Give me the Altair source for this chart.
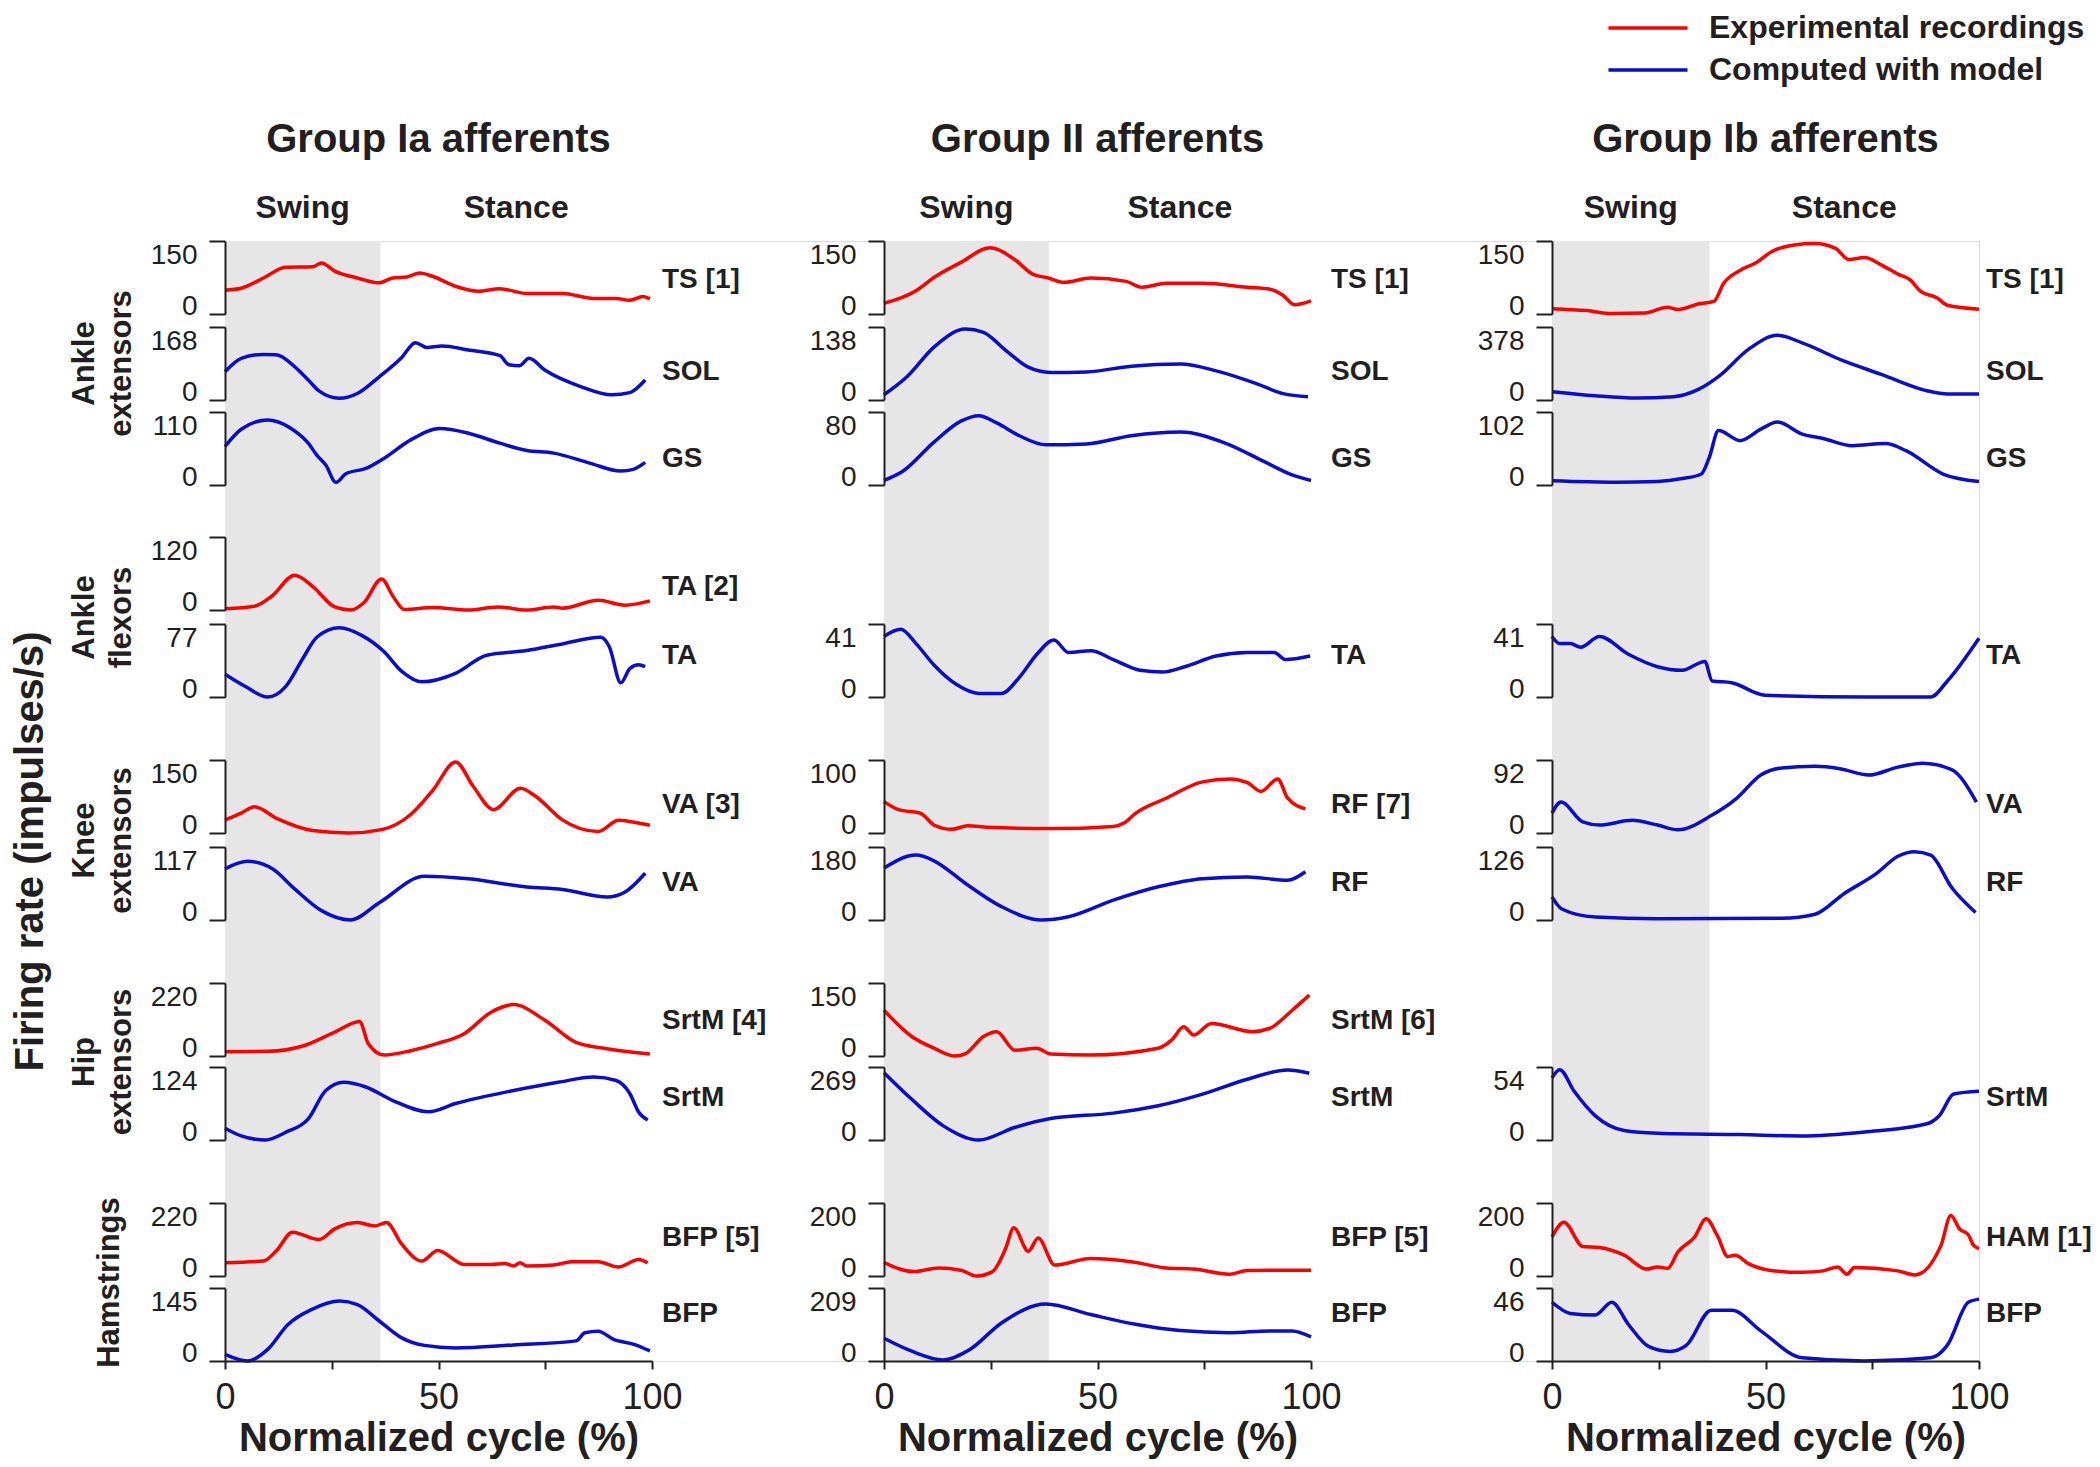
import altair as alt
import pandas as pd

# ---------------- data ----------------
EXP = "Experimental recordings"
MOD = "Computed with model"

COL_TITLES = ["Group Ia afferents", "Group II afferents", "Group Ib afferents"]
SWING_END = [36.4, 38.6, 36.9]
X_TICKS = [0, 25, 50, 75, 100]

# Group Ia
C1_TS = [(0,49),(3.8,53),(9,74),(14.2,96),(20.5,97),(22.6,105),(25.7,88),(31,74),(36,64),(39.3,74),(42.5,76),(45.6,84),(48.7,77),(54,57),(59.2,47),(64.4,52),(70.7,42),(79,42),(86.4,32),(91.6,32),(94.8,28),(97.9,36),(99.5,31)]
C1_SOL = [(0,65),(3.8,96),(9,105),(12,104),(16.3,77),(19.5,46),(22,21),(26.8,4),(31,15),(36.2,54),(41.4,98),(44.6,132),(47.2,121),(50.8,124),(57,115),(64.4,102),(66.5,81),(69,79),(71.2,96),(74.9,69),(83.3,31),(90.6,12),(94.8,17),(98.4,46)]
C1_GS = [(0,58),(3.8,84),(10,98),(15.3,86),(19.5,63),(21.5,45),(23.6,30),(26,4),(28.3,17),(33,25),(37.2,40),(43.5,68),(50.3,85),(57,78),(64.4,63),(70.7,52),(77,48),(85.4,33),(92.7,21),(95.8,24),(98.4,34)]
C1_TA_E = [(0,2),(6.9,6),(11,23),(16.3,57),(20.5,39),(25.7,5),(29.4,0),(32.5,12),(36.7,51),(39.3,23),(42,1),(48.7,4),(57,0),(63.9,5),(70.7,0),(77,5),(79,3),(87.4,16),(93.7,8),(99.5,15)]
C1_TA_M = [(0,24),(4.8,11),(10,0),(14.2,11),(18.4,42),(21.5,63),(26.8,73),(32,65),(37.2,48),(41.4,27),(46.1,16),(54,25),(61.3,44),(70.7,49),(79,56),(88,63),(90,53),(92.7,15),(94.8,30),(96.9,34),(98.4,32)]
C1_VA_E = [(0,27),(3.8,41),(6.9,54),(12.1,30),(20.5,5),(28.9,0),(36.7,7),(43.5,38),(48.7,88),(54,146),(58.2,95),(62.9,48),(69.2,92),(72.8,75),(79,27),(87.4,3),(92.2,26),(95.8,22),(99.5,16)]
C1_VA_M = [(0,82),(5.3,94),(11.1,82),(16.3,50),(22.6,15),(29.4,0),(36.2,28),(46.7,70),(57,66),(70.7,53),(79,49),(89.5,37),(93.7,45),(98.4,75)]
C1_SRT_E = [(0,13),(10,14),(18.4,31),(25.7,72),(31.5,104),(33.6,36),(37.2,3),(43.5,16),(49.8,38),(56,67),(62.3,132),(67.6,155),(75,107),(82.2,41),(88.5,24),(99.5,6)]
C1_SRT_M = [(0,20),(3.8,7),(9.5,0),(14.2,13),(19.5,36),(23.6,84),(27.8,98),(33,90),(39.3,67),(47.7,48),(54,62),(67.6,84),(78,98),(86.4,107),(91.6,101),(94.8,79),(96.9,47),(99,34)]
C1_BFP_E = [(0,40),(9,45),(12.1,77),(15.8,132),(22,110),(25.7,142),(31,161),(35.1,151),(37.8,161),(41.4,96),(46.1,45),(49.8,77),(56,35),(62.3,35),(65.5,38),(67.6,30),(69.1,40),(70.7,30),(77,33),(81.2,43),(87.4,43),(92.1,27),(96.9,50),(99,40)]
C1_BFP_M = [(0,13),(5.3,0),(10,23),(14.7,72),(20.5,103),(26.8,119),(31,112),(36.2,79),(41.4,46),(46.7,31),(54,26),(67.6,32),(82.2,40),(84.3,56),(87.4,59),(91,43),(95.8,33),(99.5,20)]

# Group II
C2_TS = [(0,22),(7.5,48),(11.7,75),(18,106),(24.8,136),(30.6,112),(34.8,82),(38.5,74),(42.1,65),(48.4,74),(56.7,67),(60.4,55),(66.2,63),(74.6,63),(85.1,55),(90.4,51),(93.5,38),(96.1,19),(100,27)]
C2_SOL = [(0,10),(5.5,45),(11.7,100),(19.1,134),(23.3,128),(28.5,94),(33.8,62),(39,52),(47.4,53),(57.9,64),(69.4,68),(77.8,55),(87.2,31),(93.5,12),(99.3,6)]
C2_GS = [(0,5),(4.4,15),(11.7,47),(18,70),(22.2,76),(26.4,68),(31.7,54),(37.9,44),(47.4,45),(57.9,54),(69.4,58),(79.9,46),(89.3,25),(95.6,11),(100,5)]
C2_TA_M = [(0,34),(3.9,38),(7.5,30),(11.7,18),(17,7),(22.2,2),(27.5,2),(31.7,11),(35.8,24),(39.8,32),(43.2,25),(48.4,26),(53.7,21),(60,15),(65.2,14),(70.4,17),(77.8,23),(85.1,25),(91.4,25),(94,21),(99.8,23)]
C2_RF_E = [(0,43),(3.4,32),(8.6,27),(11.7,11),(15.9,5),(19.6,10),(24.3,8),(39,6),(53.7,9),(56.3,14),(58.9,27),(66.2,48),(74.6,70),(81,74),(85.1,69),(88.3,57),(92.2,74),(94.5,48),(98.7,33)]
C2_RF_M = [(0,128),(7.5,160),(11.7,146),(19.1,90),(27.5,33),(36.9,0),(43.2,8),(53.7,49),(64.2,82),(74.6,102),(85.1,106),(94.5,98),(98.7,119)]
C2_SRT_E = [(0,94),(6.5,40),(11.7,16),(16.5,0),(19.1,5),(23.3,40),(26.4,50),(30.6,12),(35.8,16),(39,4),(48.4,2),(64.2,16),(67.4,33),(70.2,60),(72.5,43),(76.7,67),(86.2,50),(90.4,57),(95.6,94),(99.6,125)]
C2_SRT_M = [(0,248),(6.5,150),(13.8,53),(22.2,0),(30.6,46),(39,79),(53.7,99),(64.2,126),(74.6,169),(85.1,224),(94.5,258),(99.6,246)]
C2_BFP_E = [(0,37),(7,12),(12.8,22),(18,16),(21.7,0),(25.4,12),(28.5,76),(30.4,132),(33.8,68),(36.1,104),(40,30),(48.4,48),(57.9,39),(66.2,22),(72.5,19),(80.9,5),(85.1,15),(100,16)]
C2_BFP_M = [(0,65),(6.5,28),(13.8,3),(20.1,33),(27.5,109),(37.9,163),(48.4,133),(58.9,105),(69.4,87),(80.9,81),(90.4,86),(95.6,86),(100,69)]

# Group Ib
C3_TS = [(0,11),(8.2,7),(14,1),(21.7,2),(27,14),(29.5,9),(34.4,21),(37.9,26),(40.2,63),(44.1,90),(47.9,106),(51.4,128),(56.7,142),(61.6,145),(66.4,135),(69.5,112),(73.2,116),(77.1,101),(81,82),(83.9,70),(86.3,47),(90.2,33),(92.6,18),(100,10)]
C3_SOL = [(0,43),(10.1,22),(19.8,10),(28.5,17),(34.4,56),(39.2,125),(46,262),(52.8,335),(58.6,296),(68.3,202),(77.1,133),(87.8,48),(92.6,31),(100,31)]
C3_GS = [(0,6),(15,4),(24.7,5),(30.5,9),(34.9,15),(36.8,38),(39,76),(44.1,62),(48.9,78),(52.8,88),(58.6,71),(63.5,65),(70.3,55),(78.1,58),(82.9,48),(91.7,15),(100,5)]
C3_TA_M = [(0,34),(1.8,30),(4.3,30),(6.7,28),(11.1,34),(17.9,24),(24.7,17),(30.5,15),(35.8,20),(37.5,9),(42.1,8),(49.9,1),(73.2,0),(88.7,0),(92.6,9),(100,33)]
C3_VA_M = [(0,25),(2.1,39),(7.2,14),(11.1,10),(18.8,16),(24.7,10),(29.5,4),(37.3,22),(43.1,43),(48.9,73),(53.8,82),(61.6,84),(67.4,81),(74.2,73),(81,83),(86.8,88),(93.6,80),(99.4,39)]
C3_RF_M = [(0,40),(2.3,19),(10.1,5),(24.7,2),(53.8,3),(61.6,10),(68.3,45),(76.1,81),(81,110),(84.9,118),(88.7,112),(93.6,56),(99.2,13)]
C3_SRT_M = [(0,46),(1.8,52),(5.2,36),(10.1,18),(16.9,7),(24.7,5),(44.1,4),(58.6,3),(73.2,6),(87.8,12),(90.7,18),(94.1,34),(100,36)]
C3_HAM_E = [(0,107),(2.8,147),(7.2,81),(11.1,78),(16.9,57),(22.2,19),(24.7,25),(27.1,21),(29.5,66),(33.4,107),(36.1,157),(38.7,111),(41.2,53),(42.9,57),(46,34),(50.9,16),(58.6,10),(63.5,14),(66.9,25),(69.1,5),(70.8,23),(81,14),(85,3),(91.1,84),(93.4,166),(95.5,128),(97.5,113),(98.6,86),(100,75)]
C3_BFP_M = [(0,37),(4.3,30),(10.1,29),(14,37),(17.9,23),(22.7,9),(27.6,6),(31.5,10),(37.3,32),(42.1,32),(48.9,19),(58.6,2),(73.2,0),(88.7,2),(92.6,10),(97.5,37),(100,39)]

# (row slot, trace, axis maximum, label, series)
COL1 = [(0, C1_TS, 150, "TS [1]", EXP), (1, C1_SOL, 168, "SOL", MOD), (2, C1_GS, 110, "GS", MOD),
        (3, C1_TA_E, 120, "TA [2]", EXP), (4, C1_TA_M, 77, "TA", MOD),
        (5, C1_VA_E, 150, "VA [3]", EXP), (6, C1_VA_M, 117, "VA", MOD),
        (7, C1_SRT_E, 220, "SrtM [4]", EXP), (8, C1_SRT_M, 124, "SrtM", MOD),
        (9, C1_BFP_E, 220, "BFP [5]", EXP), (10, C1_BFP_M, 145, "BFP", MOD)]
COL2 = [(0, C2_TS, 150, "TS [1]", EXP), (1, C2_SOL, 138, "SOL", MOD), (2, C2_GS, 80, "GS", MOD),
        (4, C2_TA_M, 41, "TA", MOD),
        (5, C2_RF_E, 100, "RF [7]", EXP), (6, C2_RF_M, 180, "RF", MOD),
        (7, C2_SRT_E, 150, "SrtM [6]", EXP), (8, C2_SRT_M, 269, "SrtM", MOD),
        (9, C2_BFP_E, 200, "BFP [5]", EXP), (10, C2_BFP_M, 209, "BFP", MOD)]
COL3 = [(0, C3_TS, 150, "TS [1]", EXP), (1, C3_SOL, 378, "SOL", MOD), (2, C3_GS, 102, "GS", MOD),
        (4, C3_TA_M, 41, "TA", MOD),
        (5, C3_VA_M, 92, "VA", MOD), (6, C3_RF_M, 126, "RF", MOD),
        (8, C3_SRT_M, 54, "SrtM", MOD),
        (9, C3_HAM_E, 200, "HAM [1]", EXP), (10, C3_BFP_M, 46, "BFP", MOD)]
COLUMNS = [COL1, COL2, COL3]

GROUPS = [(["Ankle", "extensors"], 0, 2), (["Ankle", "flexors"], 3, 4), (["Knee", "extensors"], 5, 6),
          (["Hip", "extensors"], 7, 8), ("Hamstrings", 9, 10)]

# ---------------- layout / style ----------------
FONT = "Liberation Sans, Arial, Helvetica, sans-serif"
TXT = "#231f20"
RED = "#ff0000"
BLUE = "#0c0ccc"
GRAY = "#e6e6e6"

W, H = 1754, 1120
PW = 427
COL_LEFT = [0, 659, 1327]
ROW_TOP = [0, 86, 171, 296, 383, 519, 606, 742, 826, 962, 1047]
RH = 73
LABEL_FROM_TOP = [0.53, 0.62, 0.64, 0.68, 0.44, 0.61, 0.49, 0.52, 0.42, 0.48, 0.35]
LABEL_DX = [10, 20, 7]
GROUP_PAD = [88, 88, 88, 88, 100]

color_scale = alt.Scale(domain=[EXP, MOD], range=[RED, BLUE])
legend = alt.Legend(orient="none", legendX=1407, legendY=-229, direction="vertical", title=None,
                    symbolType="M-5,0H5", symbolSize=250, symbolStrokeWidth=3.5,
                    labelFont=FONT, labelFontSize=32, labelFontWeight="bold", labelColor=TXT,
                    labelOffset=45, rowPadding=10, padding=0, labelLimit=0)


def xscale(c):
    return alt.Scale(domain=[0, 100], range=[COL_LEFT[c], COL_LEFT[c] + PW], nice=False, zero=False)


def yscale(r, vmax):
    return alt.Scale(domain=[0, vmax], range=[ROW_TOP[r] + RH, ROW_TOP[r]], nice=False, zero=False)


def band_layers(c):
    xs = xscale(c)
    s = SWING_END[c]
    rect = alt.Chart(pd.DataFrame({"s": [0], "e": [s]})).mark_rect(color=GRAY).encode(
        x=alt.X("s:Q", scale=xs, axis=None), x2="e:Q",
        y=alt.value(0), y2=alt.value("height"))
    phase = alt.Chart(pd.DataFrame({"p": [s / 2, (s + 100) / 2], "t": ["Swing", "Stance"]})).mark_text(
        font=FONT, fontSize=32, fontWeight="bold", color=TXT, baseline="middle").encode(
        x=alt.X("p:Q", scale=xs, axis=None), y=alt.value(-33), text="t:N")
    title = alt.Chart(pd.DataFrame({"p": [50], "t": [COL_TITLES[c]]})).mark_text(
        font=FONT, fontSize=40, fontWeight="bold", color=TXT, baseline="middle").encode(
        x=alt.X("p:Q", scale=xs, axis=None), y=alt.value(-101), text="t:N")
    return [rect, phase, title]


def row_layers(c, r, pts, vmax, label, series):
    xs = xscale(c)
    ys = yscale(r, vmax)
    df = pd.DataFrame(pts, columns=["x", "y"])
    df["series"] = series
    yaxis = alt.Axis(orient="left", offset=-COL_LEFT[c], values=[0, vmax], title=None, grid=False,
                     tickSize=16, tickWidth=2, tickColor=TXT, domainColor=TXT, domainWidth=2,
                     labelFont=FONT, labelFontSize=28, labelColor=TXT, labelPadding=12,
                     labelFlush=False, labelOverlap=False, format="d", zindex=1, minExtent=0,
                     labelBaseline={"condition": {"test": "datum.value > 0", "value": "top"},
                                    "value": "alphabetic"})
    if r == 10:
        xaxis = alt.Axis(orient="bottom", values=X_TICKS,
                         labelExpr="datum.value % 50 === 0 ? datum.label : ''",
                         tickSize=8, tickWidth=2, tickColor=TXT, domainColor=TXT, domainWidth=2,
                         labelFont=FONT, labelFontSize=36, labelColor=TXT, labelPadding=11,
                         labelFlush=False, labelOverlap=False, grid=False, zindex=1,
                         title="Normalized cycle (%)", titleFont=FONT, titleFontSize=40,
                         titleFontWeight="bold", titleColor=TXT, titlePadding=3)
    else:
        xaxis = None
    line = alt.Chart(df).mark_line(strokeWidth=3.5, interpolate="monotone").encode(
        x=alt.X("x:Q", scale=xs, axis=xaxis),
        y=alt.Y("y:Q", scale=ys, axis=yaxis),
        color=alt.Color("series:N", scale=color_scale, legend=legend))
    ldf = pd.DataFrame({"x": [100], "y": [(1 - LABEL_FROM_TOP[r]) * vmax], "t": [label]})
    lab = alt.Chart(ldf).mark_text(align="left", baseline="middle", dx=LABEL_DX[c], font=FONT,
                                   fontSize=28, fontWeight="bold", color=TXT).encode(
        x=alt.X("x:Q", scale=xscale(c), axis=None), y=alt.Y("y:Q", scale=yscale(r, vmax), axis=None),
        text="t:N")
    return [line, lab]


def title_layer(title, top, bottom, pad, size, lh):
    return alt.Chart(pd.DataFrame({"v": [0, 1]})).mark_point(opacity=0).encode(
        y=alt.Y("v:Q", scale=alt.Scale(domain=[0, 1], range=[bottom, top], nice=False, zero=False),
                axis=alt.Axis(orient="left", title=title, labels=False, ticks=False, domain=False,
                              grid=False, minExtent=0, titlePadding=pad, titleFont=FONT,
                              titleFontSize=size, titleFontWeight="bold", titleColor=TXT,
                              titleLineHeight=lh, titleBaseline="bottom")))


layers = []
for c in range(3):
    layers += band_layers(c)
for g, (title, r0, r1) in enumerate(GROUPS):
    layers.append(title_layer(title, ROW_TOP[r0], ROW_TOP[r1] + RH, GROUP_PAD[g], 31, 37))
layers.append(title_layer("Firing rate (impulses/s)", 310, 910, 175, 40, 44))
for c, col in enumerate(COLUMNS):
    for (r, pts, vmax, label, series) in col:
        layers += row_layers(c, r, pts, vmax, label, series)

chart = alt.layer(*layers).properties(
    width=W, height=H,
    autosize=alt.AutoSizeParams(type="none"),
    padding={"left": 217, "top": 233, "right": 113, "bottom": 98},
).resolve_scale(x="independent", y="independent", color="shared").resolve_axis(
    x="independent", y="independent"
).configure_view(stroke="transparent", strokeWidth=0).configure(background="white")

chart.save("out.html", embed_options={"renderer": "svg", "actions": False})
